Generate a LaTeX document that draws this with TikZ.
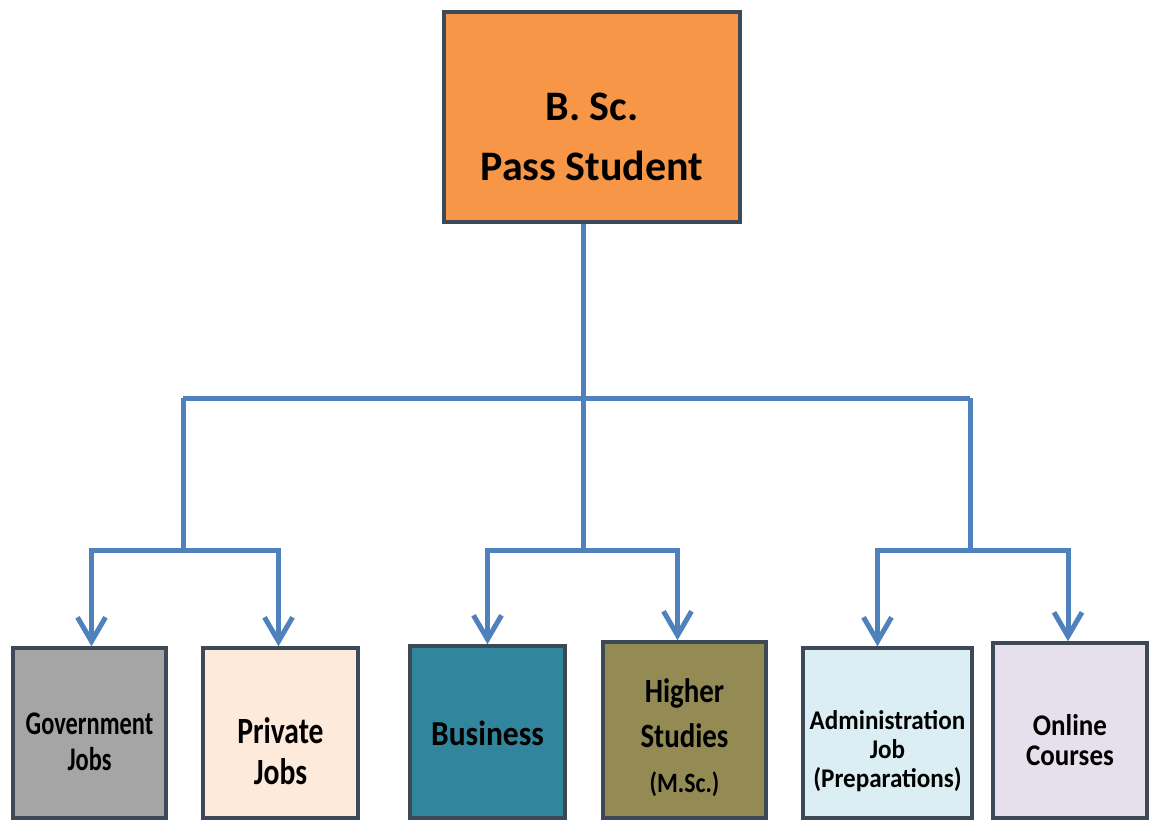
\documentclass[tikz,border=0pt]{standalone}
\usepackage{fontspec}
\usepackage{graphicx}
\setmainfont{Carlito}
\usetikzlibrary{arrows.meta}
\definecolor{bordc}{HTML}{3D4957}
\definecolor{linec}{HTML}{4F81BD}
\definecolor{corange}{HTML}{F79646}
\definecolor{cgov}{HTML}{A5A5A5}
\definecolor{cpriv}{HTML}{FDEADA}
\definecolor{cbus}{HTML}{31859C}
\definecolor{chigh}{HTML}{948A54}
\definecolor{cadm}{HTML}{DBEEF4}
\definecolor{conl}{HTML}{E5E0EC}
\newcommand{\sq}[2][0.85]{\scalebox{#1}[1]{#2}}
\begin{document}
\begin{tikzpicture}[x=1pt,y=-1pt,
  box/.style={draw=bordc, line width=3.5pt, inner sep=0pt},
  lbl/.style={inner sep=0pt, align=center, text=black},
  conn/.style={draw=linec, line width=5pt},
  arr/.style={conn, -{Straight Barb[length=24pt,width=28pt,line width=5pt]}}]
\useasboundingbox (0,0) rectangle (1149,822);
% boxes
\node[box, fill=corange, minimum width=296pt, minimum height=210pt] (top) at (592,117) {};
\node[box, fill=cgov, minimum width=153pt, minimum height=170pt] (gov) at (89.5,733) {};
\node[box, fill=cpriv, minimum width=155pt, minimum height=170pt] (priv) at (280.5,733) {};
\node[box, fill=cbus, minimum width=155pt, minimum height=172pt] (bus) at (487.5,732) {};
\node[box, fill=chigh, minimum width=163pt, minimum height=176pt] (high) at (684.5,730) {};
\node[box, fill=cadm, minimum width=169pt, minimum height=170pt] (adm) at (887.5,733) {};
\node[box, fill=conl, minimum width=154pt, minimum height=175pt] (onl) at (1070,730.5) {};
% labels
\node[lbl, font=\fontsize{42}{60}\selectfont\bfseries] (topt) at ([yshift=-20pt]top.center) {B. Sc.\\Pass Student};
\node[lbl, font=\fontsize{33}{36}\selectfont\bfseries] (govt) at ([yshift=-9pt]gov.center) {\sq[0.74]{Government}\\\sq[0.74]{Jobs}};
\node[lbl, font=\fontsize{37}{41}\selectfont\bfseries] (privt) at ([yshift=-18pt]priv.center) {\sq[0.8]{Private}\\\sq[0.8]{Jobs}};
\node[lbl, font=\fontsize{35}{41}\selectfont\bfseries] (bust) at ([yshift=-1pt]bus.center) {\sq[0.9]{Business}};
\node[lbl, font=\fontsize{34}{45}\selectfont\bfseries] (hight) at ([yshift=-8pt]high.center) {\sq{Higher}\\\sq{Studies}\\{\fontsize{28}{41}\selectfont\sq{(M.Sc.)}}};
\node[lbl, font=\fontsize{27}{29}\selectfont\bfseries] (admt) at ([yshift=-18pt]adm.center) {\sq[0.93]{Administration}\\\sq[0.93]{Job}\\\sq[0.93]{(Preparations)}};
\node[lbl, font=\fontsize{30}{30}\selectfont\bfseries] (onlt) at ([yshift=-10pt]onl.center) {\sq[0.9]{Online}\\\sq[0.9]{Courses}};
% connectors
\coordinate (c1) at (183,398);
\coordinate (c2) at (583,398);
\coordinate (c3) at (970,398);
\coordinate (d1) at (183,550);
\coordinate (d2) at (583,550);
\coordinate (d3) at (970,550);
\draw[conn] (top.south -| c2) -- (c2);
\draw[conn] (c1) -- (c3);
\draw[conn] (c1) -- (d1);
\draw[conn] (c2) -- (d2);
\draw[conn] (c3) -- (d3);
\draw[arr] (d1) -| ([xshift=2pt]gov.north);
\draw[arr] (d1) -| ([xshift=-2pt]priv.north);
\draw[arr] (d2) -| (bus.north);
\draw[arr] (d2) -| ([xshift=-7pt]high.north);
\draw[arr] (d3) -| ([xshift=-10pt]adm.north);
\draw[arr] (d3) -| ([xshift=-2pt]onl.north);
\end{tikzpicture}
\end{document}
